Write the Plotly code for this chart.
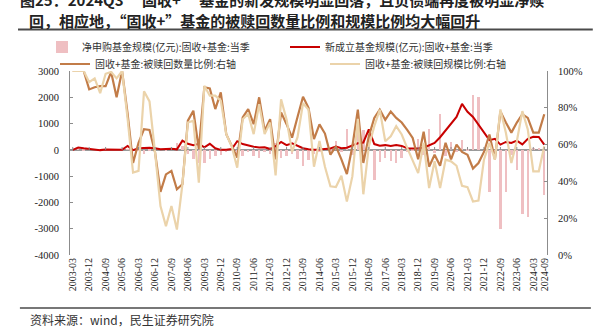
import plotly.graph_objects as go

# ---------------- data ----------------
QUARTERS = [f"{y}-{m:02d}" for y in range(2003, 2025) for m in (3, 6, 9, 12)][:87]

TICK_LABELS = ["2003-03", "2003-12", "2004-09", "2005-06", "2006-03", "2006-12", "2007-09",
               "2008-06", "2009-03", "2009-12", "2010-09", "2011-06", "2012-03", "2012-12",
               "2013-09", "2014-06", "2015-03", "2015-12", "2016-09", "2017-06", "2018-03",
               "2018-12", "2019-09", "2020-06", "2021-03", "2021-12", "2022-09", "2023-06",
               "2024-03", "2024-09"]

# 净申购基金规模(亿元)
NET_SUB = [0, 10, -10, 0, 5, -10, 0, 5, -5, 0,
           20, -30, -40, -150, -60, -20, 10, -40, 30, 280,
           150, -170, -360, -490, -500, -350, -250, -200, -80, -60,
           -280, -220, -100, -220, -300, -100, -170, 280, -300, -230,
           -170, -350, -600, -380, -150, -80, 60, -60, 350, -100,
           800, -200, 700, 750, 650, -1150, -450, -300, -420, -490,
           -300, -100, -60, 400, -200, 780, -120, 1360, -250, 300,
           -100, 380, -50, 2100, 2020, -100, -1600, -250, -3000, -1600,
           -200, -780, -2430, -2560, 70, 70, -1730]

# 新成立基金规模(亿元)
NEW_FUND = [0, 90, 60, 40, 20, -10, 10, 10, 0, 0,
            150, -10, 60, 80, 80, 60, 20, 30, 40, 20,
            350, 230, 180, 230, 100, 230, 60, 0, 0, 30,
            330, 220, 160, 120, 90, 100, 30, 140, 300, 180,
            250, 150, 60, 20, 0, 10, 30, 50, 130, 60,
            80, 180, 250, 280, 780, 220, 160, 180, 150, 180,
            150, 60, 50, 50, 80, 180, 260, 480, 750, 1000,
            1250, 1750, 1450, 1250, 950, 620, 370, 420, 200, 300,
            260, 350, 210, 420, 500, 490, 200]

# 被赎回数量比例 (右轴)
REDEEM_COUNT = [1.0, 1.0, 1.0, .90, .912, .918, .918, .995, .857, 1.0,
                .77, .50, .61, .684, .68, .56, .343, .438, .457, .357,
                .384, .73, .784, .575, .911, .905, .793, .884, .657, .593,
                .53, .748, .793, .711, .857, .675, .738, .52, .775, .711,
                .638, .75, .86, .80, .63, .71, .66, .545, .59, .52,
                .44, .59, .79, .50, .645, .745, .79, .735, .78, .745,
                .72, .68, .636, .52, .67, .48, .545, .485, .61, .52,
                .60, .56, .545, .47, .50, .56, .655, .52, .78, .72,
                .665, .72, .765, .745, .665, .665, .765]

# 被赎回规模比例 (右轴)
REDEEM_SCALE = [1.0, 1.0, 1.0, .939, .96, .88, .985, .995, .96, 1.0,
                .743, .448, .457, .89, .835, .56, .266, .157, .266, .138,
                .384, .72, .73, .393, .92, .866, .866, .839, .657, .59,
                .475, .738, .766, .657, .82, .657, .72, .432, .846, .737,
                .56, .64, .825, .79, .48, .62, .48, .373, .369, .431,
                .29, .427, .74, .33, .59, .70, .79, .618, .645, .70,
                .655, .582, .518, .445, .609, .364, .509, .364, .518, .509,
                .485, .376, .369, .291, .296, .518, .609, .518, .791, .664,
                .50, .618, .782, .682, .455, .455, .591]

Y_LEFT_TICKS = [-4000, -3000, -2000, -1000, 0, 1000, 2000, 3000]
Y_RIGHT_TICKS = [0, 0.2, 0.4, 0.6, 0.8, 1.0]

NAMES = ["净申购基金规模(亿元):固收+基金:当季",
         "新成立基金规模(亿元):固收+基金:当季",
         "固收+基金:被赎回数量比例:右轴",
         "固收+基金:被赎回规模比例:右轴"]

TITLE_1 = "图25：2024Q3 “固收+” 基金的新发规模明显回落，且负债端再度被明显净赎"
TITLE_2 = "回，相应地，“固收+”基金的被赎回数量比例和规模比例均大幅回升"
SOURCE = "资料来源：wind，民生证券研究院"

# ---------------- figure ----------------
SERIF = "Liberation Serif"
CJK = "Noto Sans CJK SC"
W, H = 598, 329
ML, MR, MT, MB = 70, 51, 71, 74
PW, PH = W - ML - MR, H - MT - MB

fig = go.Figure()
fig.add_trace(go.Bar(x=QUARTERS, y=NET_SUB, name=NAMES[0], marker_color="#EFBFC2",
                     marker_line_width=0, width=0.45, legend="legend", yaxis="y",
                     showlegend=True))
fig.add_trace(go.Scatter(x=QUARTERS, y=NEW_FUND, name=NAMES[1], mode="lines",
                         line=dict(color="#C80000", width=2), legend="legend2", yaxis="y",
                         showlegend=True))
fig.add_trace(go.Scatter(x=QUARTERS, y=REDEEM_COUNT, name=NAMES[2], mode="lines",
                         line=dict(color="#C27C48", width=2.2), legend="legend3", yaxis="y2",
                         showlegend=True))
fig.add_trace(go.Scatter(x=QUARTERS, y=REDEEM_SCALE, name=NAMES[3], mode="lines",
                         line=dict(color="#EBD3AA", width=2.2), legend="legend4", yaxis="y2",
                         showlegend=True))

# small tick marks on the zero line
shapes = [dict(type="line", xref="x", yref="y", x0=t, x1=t, y0=0, y1=110,
               line=dict(color="#8c8c8c", width=1)) for t in TICK_LABELS]
# horizontal rules
shapes.append(dict(type="line", xref="paper", yref="paper", x0=-0.109, x1=1.096,
                   y0=1.2255, y1=1.2255, line=dict(color="#4a4a4a", width=2)))
shapes.append(dict(type="line", xref="paper", yref="paper", x0=-0.105, x1=1.092,
                   y0=-0.288, y1=-0.288, line=dict(color="#4a4a4a", width=1.5)))


def legend_at(px_x, px_y):
    return dict(orientation="h", xref="paper", yref="paper",
                x=(px_x - ML) / PW, y=(H - MB - px_y) / PH, xanchor="left", yanchor="middle",
                itemwidth=30, font=dict(family=CJK, size=10, color="#333"),
                bgcolor="rgba(0,0,0,0)", borderwidth=0)


fig.update_layout(
    width=W, height=H,
    showlegend=True,
    margin=dict(l=ML, r=MR, t=MT, b=MB, autoexpand=False),
    paper_bgcolor="white", plot_bgcolor="white",
    bargap=0,
    shapes=shapes,
    xaxis=dict(type="category", range=[-0.5, 86.5], tickmode="array",
               tickvals=TICK_LABELS, ticktext=TICK_LABELS, tickangle=-90,
               tickfont=dict(family=SERIF, size=10, color="#222"),
               showline=False, showgrid=False, ticks="", zeroline=False),
    yaxis=dict(range=[-4000, 3000], tickmode="array", tickvals=Y_LEFT_TICKS,
               ticktext=[str(v) for v in Y_LEFT_TICKS],
               tickfont=dict(family=SERIF, size=10.5, color="#222"),
               showline=True, linecolor="#8c8c8c", linewidth=1,
               ticks="inside", ticklen=3, tickcolor="#8c8c8c",
               showgrid=False, zeroline=True, zerolinecolor="#9a9a9a", zerolinewidth=1.5,
               ticklabelstandoff=8),
    yaxis2=dict(range=[0, 1], overlaying="y", side="right", tickmode="array",
                tickvals=Y_RIGHT_TICKS, ticktext=[f"{int(round(v*100))}%" for v in Y_RIGHT_TICKS],
                tickfont=dict(family=SERIF, size=10.5, color="#222"),
                showline=True, linecolor="#8c8c8c", linewidth=1,
                ticks="inside", ticklen=3, tickcolor="#8c8c8c",
                showgrid=False, zeroline=False, ticklabelstandoff=8),
    legend=legend_at(42, 47),
    legend2=legend_at(285, 47),
    legend3=legend_at(55, 64),
    legend4=legend_at(325, 64),
    annotations=[
        dict(text=f"<b>{TITLE_1}</b>", xref="paper", yref="paper", x=-0.109, y=1.391,
             xanchor="left", yanchor="middle", showarrow=False,
             font=dict(family=CJK, size=15, color="#222")),
        dict(text=f"<b>{TITLE_2}</b>", xref="paper", yref="paper", x=-0.0901, y=1.277,
             xanchor="left", yanchor="middle", showarrow=False,
             font=dict(family=CJK, size=15, color="#222")),
        dict(text=SOURCE, xref="paper", yref="paper", x=-0.088, y=-0.353,
             xanchor="left", yanchor="middle", showarrow=False,
             font=dict(family=CJK, size=12, color="#333")),
    ],
)

fig.write_html("out.html")
